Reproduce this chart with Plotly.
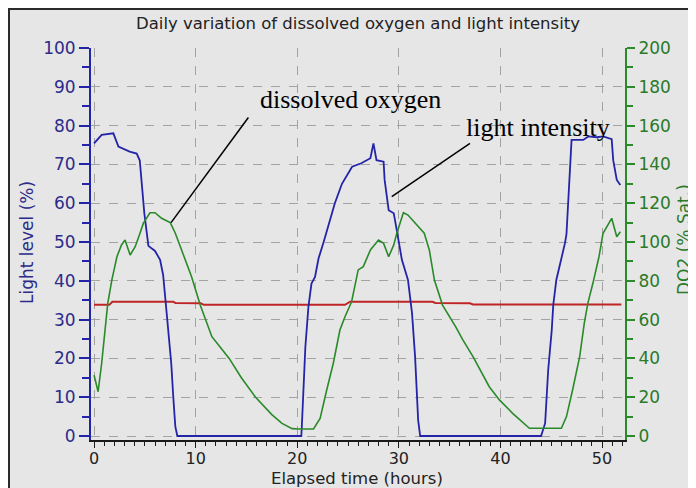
import plotly.graph_objects as go

# ---- data ----
light_t = [0, 0.75, 1.9, 2.4, 3.5, 4.2, 4.5, 4.7, 4.95, 5.35, 6.0, 6.5, 6.8, 7.15, 7.6, 7.8, 8.0, 8.2,
           20.4, 20.45, 20.6, 20.8, 21.1, 21.4, 21.75, 22.1, 22.6, 23.7, 24.4, 25.4, 26.3, 27.2, 27.5,
           27.8, 28.5, 28.6, 29.0, 29.5, 29.8, 30.3, 30.9, 31.3, 31.6, 31.9, 32.1,
           44.0, 44.4, 44.55, 44.7, 45.05, 45.2, 45.5, 46.0, 46.35, 46.5, 46.7, 46.85, 47.0,
           48.15, 48.65, 49.5, 50.1, 50.95, 51.1, 51.45, 51.8]
light_level = [75.4, 77.6, 78.0, 74.6, 73.3, 72.8, 71.0, 65.0, 57.4, 49.0, 47.7, 45.4, 41.5, 31.6, 18.7, 10.0, 2.4, 0,
               0, 2.4, 12.7, 23.0, 33.3, 39.3, 41.0, 45.8, 50.0, 60.0, 65.0, 69.4, 70.3, 71.6, 75.4,
               71.1, 70.7, 66.0, 58.2, 57.4, 53.0, 45.4, 40.2, 31.6, 20.4, 4.1, 0,
               0, 3.3, 10.0, 17.0, 27.3, 33.8, 40.2, 45.4, 49.7, 52.0, 62.5, 71.1, 76.3,
               76.3, 77.2, 77.0, 77.2, 76.5, 71.1, 66.0, 64.7]

do_t = [0, 0.4, 0.75, 1.1, 1.35, 1.75, 2.25, 2.7, 3.05, 3.55, 4.05, 4.4, 4.85, 5.5, 6.0, 6.65, 7.5, 8.0,
        8.6, 9.6, 10.45, 11.1, 11.6, 12.25, 13.3, 14.5, 15.9, 17.5, 18.5, 19.5, 20.1, 21.6, 22.25,
        22.9, 23.55, 24.2, 24.7, 25.35, 25.7, 26.0, 26.5, 27.2, 28.0, 28.5, 29.0, 29.5, 29.8, 30.45,
        30.9, 31.9, 32.5, 33.0, 33.5, 34.3, 35.6, 36.3, 37.3, 38.9, 39.9, 41.2, 42.85, 46.0, 46.5,
        47.1, 47.8, 48.25, 48.6, 49.1, 49.7, 50.1, 50.95, 51.45, 51.8]
do2_sat = [31.4, 22.8, 37.5, 54.6, 68.4, 80.4, 92.4, 98.5, 101, 93.3, 97.6, 102.7, 109.6, 115.1, 115.1, 112.2, 110, 104.5,
           95.9, 82.1, 67.5, 58.1, 51.2, 46.9, 40, 30, 20, 11, 6.5, 3.8, 3.6, 3.6, 9.1,
           23.7, 37.5, 54.6, 61.5, 69.2, 78.7, 85.6, 87.3, 95.9, 101, 99.3, 92.4, 98.5, 104.5, 115.1,
           113.9, 107.9, 104.5, 95.9, 80.4, 67.5, 56.3, 49.5, 40.9, 25.4, 18.6, 11.7, 4.0, 4.0, 10,
           23.7, 40.9, 58.1, 68.4, 78.7, 92.4, 104.5, 112.2, 102.7, 105.3]

ref_t = [0, 1.5, 1.8, 7.8, 8.0, 10.5, 10.8, 24.7, 25.2, 33.3, 33.6, 37.0, 37.3, 51.9]
ref_level = [33.8, 33.8, 34.6, 34.6, 34.3, 34.2, 33.8, 33.8, 34.6, 34.6, 34.3, 34.2, 33.9, 33.9]

title_text = "Daily variation of dissolved oxygen and light intensity"
x_title = "Elapsed time (hours)"
y_left_title = "Light level (%)"
y_right_title = "DO2 (% Sat.)"

# callouts: label, text position, and pointer line ends (data units)
callout_labels = ["dissolved oxygen", "light intensity"]
callout_text_xy = [(25.2, 86.6), (43.7, 79.6)]
callout_lines = [((15.19, 82.1), (7.58, 55.0)), ((37.0, 75.4), (29.3, 61.7))]

# ---- layout geometry ----
# the page body adds an 8px offset; figure is sized so that it ends at the window edge
OFF = 8
W, H = 696 - OFF, 488 - OFF
L, T = 91 - OFF, 48 - OFF           # plot area starts at page (91, 48)
R = W - (625 - OFF)                 # plot area ends at page x=625
B = H - (440 - OFF)                 # plot area ends at page y=440
pw, ph = W - L - R, H - T - B


def px(x_page):
    return (x_page - OFF - L) / pw


def py(y_page):
    return (H - B - (y_page - OFF)) / ph


BLUE = "#2424a8"
GREEN = "#2a8a2a"
RED = "#c02525"
BG = "#e6e6e6"
GRID = "#a3a3a3"
FONT = "DejaVu Sans"

fig = go.Figure()
fig.add_trace(go.Scatter(x=ref_t, y=ref_level, mode="lines", line=dict(color=RED, width=2),
                         name="reference", showlegend=False))
fig.add_trace(go.Scatter(x=do_t, y=do2_sat, mode="lines", line=dict(color=GREEN, width=1.6),
                         name="DO2", yaxis="y2", showlegend=False))
fig.add_trace(go.Scatter(x=light_t, y=light_level, mode="lines", line=dict(color=BLUE, width=1.8),
                         name="Light", showlegend=False))

fig.update_layout(
    width=W, height=H,
    margin=dict(l=L, r=R, t=T, b=B, pad=0, autoexpand=False),
    paper_bgcolor="white",
    plot_bgcolor=BG,
    font=dict(family=FONT, size=16, color="#222"),
    xaxis=dict(
        range=[-0.3, 52.26], dtick=10, tick0=0, automargin=False,
        showgrid=True, gridcolor=GRID, griddash="dash", gridwidth=1,
        zeroline=False, showline=True, linecolor="#1a1a1a", linewidth=1.5,
        ticks="outside", ticklen=6, tickcolor="#1a1a1a", tickwidth=1.2,
        ticklabelstandoff=-3,
        tickfont=dict(family=FONT, size=16, color="#222"),
        minor=dict(dtick=1, tick0=0, ticks="outside", ticklen=4, tickcolor="#1a1a1a", showgrid=False),
    ),
    yaxis=dict(
        range=[-1.03, 100], dtick=10, tick0=0, automargin=False,
        showgrid=True, gridcolor=GRID, griddash="dash", gridwidth=1,
        zeroline=False, showline=True, linecolor=BLUE, linewidth=2,
        ticks="outside", ticklen=10, tickcolor=BLUE, tickwidth=1.5,
        tickfont=dict(family=FONT, size=17, color="#2b2b8a"),
        minor=dict(dtick=5, tick0=0, ticks="outside", ticklen=7, tickcolor=BLUE, showgrid=False),
    ),
    yaxis2=dict(
        range=[-2.06, 200], dtick=20, tick0=0, overlaying="y", side="right", automargin=False,
        showgrid=False, zeroline=False, showline=True, linecolor=GREEN, linewidth=2,
        ticks="outside", ticklen=8, tickcolor=GREEN, tickwidth=1.5,
        tickfont=dict(family=FONT, size=17, color="#2a7a2a"),
        minor=dict(dtick=10, tick0=0, ticks="outside", ticklen=6, tickcolor=GREEN, showgrid=False),
    ),
)

shapes = [
    dict(type="rect", xref="paper", yref="paper", x0=px(9), x1=px(710), y0=py(500), y1=py(9),
         fillcolor=BG, line=dict(color="#2a2a2a", width=2), layer="below"),
]
for (x0, y0), (x1, y1) in callout_lines:
    shapes.append(dict(type="line", xref="x", yref="y", x0=x0, y0=y0, x1=x1, y1=y1,
                       line=dict(color="black", width=1.5)))
fig.update_layout(shapes=shapes)

annotations = [
    dict(text=title_text, xref="paper", yref="paper", x=px(358), y=py(23.5), showarrow=False,
         xanchor="center", yanchor="middle", font=dict(family=FONT, size=16.5, color="#222")),
    dict(text=x_title, xref="paper", yref="paper", x=px(357), y=py(478.5), showarrow=False,
         xanchor="center", yanchor="middle", font=dict(family=FONT, size=16.5, color="#222")),
    dict(text=y_left_title, xref="paper", yref="paper", x=px(27), y=py(243), showarrow=False,
         textangle=-90, xanchor="center", yanchor="middle", font=dict(family=FONT, size=17, color="#2b2b8a")),
    dict(text=y_right_title, xref="paper", yref="paper", x=px(684), y=py(240), showarrow=False,
         textangle=-90, xanchor="center", yanchor="middle", font=dict(family=FONT, size=17, color="#2a7a2a")),
]
for label, (tx, ty) in zip(callout_labels, callout_text_xy):
    annotations.append(dict(text=label, xref="x", yref="y", x=tx, y=ty, showarrow=False,
                            xanchor="center", yanchor="middle",
                            font=dict(family="Liberation Serif", size=26, color="black")))
fig.update_layout(annotations=annotations)

fig.write_html("out.html")
